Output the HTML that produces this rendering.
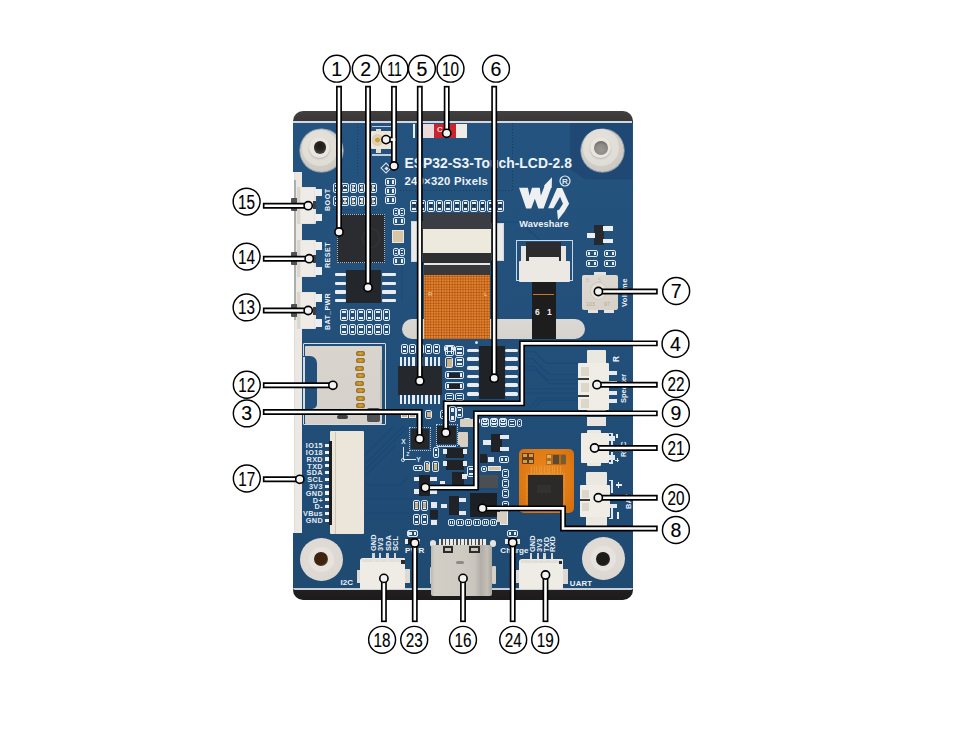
<!DOCTYPE html>
<html><head><meta charset="utf-8">
<style>
*{margin:0;padding:0;box-sizing:border-box}
html,body{width:960px;height:730px;background:#fff;overflow:hidden}
body{position:relative;font-family:"Liberation Sans",sans-serif}
.a{position:absolute}
.hole{position:absolute;border-radius:50%;background:#dedbd3;box-shadow:inset 0 -3px 4px rgba(0,0,0,.25)}
.hole i{position:absolute;border-radius:50%;background:#d2cec6;left:50%;top:50%;transform:translate(-50%,-50%)}
.hole b{position:absolute;border-radius:50%;background:#3a3632;left:50%;top:50%;transform:translate(-50%,-50%)}
.t{position:absolute;color:#eef3f8;font-weight:bold;white-space:nowrap;line-height:1}
.o{position:absolute;border:1px solid #dfe8f0;border-radius:2px}
.p{position:absolute;background:#e9edf0}
.k{position:absolute;background:#25282d}
.c{position:absolute;background:#ebe6dc}
.r{position:absolute;transform-origin:0 0;transform:rotate(-90deg)}
</style></head><body>
<div class="a" style="left:293px;top:111px;width:340px;height:489px;background:linear-gradient(180deg,#423f3f 0,#393737 2.1%,#2c2a2a 2.3%,#242222 96%,#1d1b1b 100%);border-radius:10px 10px 10px 10px"></div>
<div class="a" style="left:293px;top:121px;width:339.5px;height:467.5px;background:linear-gradient(180deg,#24537f 0,#22507a 45%,#204c75 75%,#1f4a72 100%);border-radius:3px"></div>
<div class="a" style="left:293px;top:121px;width:339px;height:1.6px;background:#d2d8de"></div>
<div class="a" style="left:293px;top:588px;width:339.5px;height:1.7px;background:#c9cfd5;border-radius:0 0 2px 2px"></div>
<div class="a" style="left:570px;top:122.6px;width:62px;height:57px;background:#1f4974;clip-path:polygon(0 0,100% 0,100% 100%,25% 100%,0 82%)"></div>
<div class="a" style="left:511.5px;top:123px;width:1px;height:67px;background:repeating-linear-gradient(180deg,#123c68 0,#123c68 1px,transparent 1px,transparent 3px)"></div>
<div class="a" style="left:400px;top:189.5px;width:112px;height:1px;background:repeating-linear-gradient(90deg,#123c68 0,#123c68 1px,transparent 1px,transparent 3px)"></div>
<svg class="a" style="left:0;top:0" width="960" height="730" viewBox="0 0 960 730"><g fill="none" stroke="#174879" stroke-width="1.1" opacity=".75">
<polyline points="525.3,351.7 534.6,351.7 546.3,363.4 579,363.4"/>
<polyline points="525.3,358.5 532.7,358.5 548.8,374.5 579,374.5"/>
<polyline points="525.3,366.5 534,366.5 547.5,380 579,380"/>
<polyline points="525.3,370.2 535.8,370.2 549.4,383.8 579,383.8"/>
<polyline points="525.3,388.7 579,388.7"/>
<polyline points="529.7,407.2 539,398 579,398"/>
<polyline points="534.6,407.2 542,400.4 579,400.4"/>
<polyline points="525.3,393 579,393"/>
<polyline points="365,464.5 404.7,425"/>
<polyline points="365,470 407,428"/>
<polyline points="365,476 396,445"/>
<polyline points="365,485 400,485 408,477"/>
<polyline points="365,498.8 411,498.8"/>
<polyline points="365,513.3 411,513.3"/>
<polyline points="365,455 393,427"/>
<polyline points="540,240 520,222 470,222"/>
<polyline points="402,300 402,260"/>
</g></svg>
<div class="a" style="left:293px;top:172px;width:0.8px;height:361px;background:#fff"></div>
<div class="a" style="left:293.7px;top:172px;width:8.4px;height:361px;background:linear-gradient(90deg,#dedad5,#ebe8e3 20%,#ece9e4)"></div>
<div class="a" style="left:294.3px;top:180px;width:1.5px;height:140px;background:#b0aeab"></div>
<div class="a" style="left:300.0px;top:129.1px;width:43.0px;height:43.0px;border-radius:50%;background:radial-gradient(circle at 45% 35%,#d9d5ce 0,#cfcbc3 70%,#b9b5ad 100%);box-shadow:0 0 0 0.6px rgba(240,240,240,.6)"></div>
<div class="a" style="left:301.5px;top:129.5px;width:36.6px;height:36.6px;border-radius:50%;background:radial-gradient(circle at 45% 40%,#e6e3dd 0,#dfdcd5 80%,#d3cfc8 100%);"></div>
<div class="a" style="left:309.1px;top:137.4px;width:20.8px;height:20.8px;border-radius:50%;background:#e9e6e0;box-shadow:0 1px 2px rgba(0,0,0,.2)"></div>
<div class="a" style="left:313.6px;top:141.4px;width:12.8px;height:12.8px;border-radius:50%;background:radial-gradient(circle at 50% 35%,#1c1a18 0,#2a2623 45%,#5c5750 100%);"></div>
<div class="a" style="left:580.5px;top:128.5px;width:43.0px;height:43.0px;border-radius:50%;background:radial-gradient(circle at 45% 35%,#d9d5ce 0,#cfcbc3 70%,#b9b5ad 100%);box-shadow:0 0 0 0.6px rgba(240,240,240,.6)"></div>
<div class="a" style="left:582.7px;top:129.2px;width:36.6px;height:36.6px;border-radius:50%;background:radial-gradient(circle at 45% 40%,#e6e3dd 0,#dfdcd5 80%,#d3cfc8 100%);"></div>
<div class="a" style="left:590.1px;top:137.1px;width:20.8px;height:20.8px;border-radius:50%;background:#e9e6e0;box-shadow:0 1px 2px rgba(0,0,0,.2)"></div>
<div class="a" style="left:594.3000000000001px;top:141.29999999999998px;width:13.8px;height:13.8px;border-radius:50%;background:radial-gradient(circle at 50% 65%,#9b9792 0,#8d8984 50%,#57534e 100%);"></div>
<div class="a" style="left:300.09999999999997px;top:537.6999999999999px;width:43.2px;height:43.2px;border-radius:50%;background:radial-gradient(circle at 40% 40%,#e2ded7 0,#dcd8d1 75%,#bdb9b2 92%,#9f9b95 100%);"></div>
<div class="a" style="left:309.2px;top:546.8px;width:25.0px;height:25.0px;border-radius:50%;background:#e6e3de;"></div>
<div class="a" style="left:314.3px;top:552.4px;width:13.8px;height:13.8px;border-radius:50%;background:radial-gradient(circle at 45% 45%,#3e2410 0,#3e2410 55%,#8a7234 100%);"></div>
<div class="a" style="left:581.6999999999999px;top:537.1999999999999px;width:43.2px;height:43.2px;border-radius:50%;background:radial-gradient(circle at 40% 40%,#e2ded7 0,#dcd8d1 75%,#bdb9b2 92%,#9f9b95 100%);"></div>
<div class="a" style="left:590.8px;top:546.3px;width:25.0px;height:25.0px;border-radius:50%;background:#e6e3de;"></div>
<div class="a" style="left:595.9px;top:551.9px;width:13.8px;height:13.8px;border-radius:50%;background:radial-gradient(circle at 45% 45%,#1e1c1a 0,#1e1c1a 55%,#4a4642 100%);"></div>
<div class="a" style="left:371.4px;top:131.3px;width:20.3px;height:17.7px;background:#ece5d8;border-radius:1px"></div>
<div class="a" style="left:375.5px;top:128.5px;width:5px;height:3px;background:#e5ddd0;"></div>
<div class="a" style="left:375.5px;top:149px;width:5px;height:4px;background:#e5ddd0;"></div>
<div class="a" style="left:372.2px;top:134.4px;width:11.2px;height:11.2px;background:radial-gradient(circle,#c9a042 0,#c9a042 25%,#e2d3b8 35%,#d8c6a4 100%);border-radius:50%"></div>
<div class="a" style="left:372px;top:125.5px;width:20px;height:1.3px;background:#e8eef4;opacity:.8"></div>
<div class="a" style="left:372px;top:154.3px;width:22px;height:1.3px;background:#e8eef4;opacity:.8"></div>
<div class="a" style="left:413px;top:124px;width:1.6px;height:14px;background:#e8eef4;"></div>
<div class="a" style="left:423.2px;top:124.1px;width:11px;height:13.5px;background:#ecdada;"></div>
<div class="a" style="left:434.2px;top:124.1px;width:21.8px;height:13.5px;background:#c9252f;"></div>
<div class="a" style="left:456px;top:124.1px;width:11px;height:13.5px;background:#efebe7;"></div>
<div class="t" style="left:437px;top:126px;font-size:8px;color:#f4dede">C</div>
<div class="t" style="left:404.4px;top:157.4px;font-size:13.85px;letter-spacing:0.04px">ESP32-S3-Touch-LCD-2.8</div>
<div class="t" style="left:404.5px;top:175.7px;font-size:11.3px;letter-spacing:0.25px">240×320 Pixels</div>
<div class="o" style="left:410.0px;top:199.6px;width:7.6px;height:12.4px;"><i style="position:absolute;left:1px;top:1px;right:1px;height:2.0px;background:#e8eef4"></i><i style="position:absolute;left:1px;bottom:1px;right:1px;height:2.0px;background:#e8eef4"></i><i style="position:absolute;left:1.5px;right:1.5px;top:3.6px;height:3.2px;background:#2c2f35"></i></div>
<div class="o" style="left:418.6px;top:199.6px;width:7.6px;height:12.4px;"><i style="position:absolute;left:1px;top:1px;right:1px;height:2.0px;background:#e8eef4"></i><i style="position:absolute;left:1px;bottom:1px;right:1px;height:2.0px;background:#e8eef4"></i><i style="position:absolute;left:1.5px;right:1.5px;top:3.6px;height:3.2px;background:#2c2f35"></i></div>
<div class="o" style="left:427.2px;top:199.6px;width:7.6px;height:12.4px;"><i style="position:absolute;left:1px;top:1px;right:1px;height:2.0px;background:#e8eef4"></i><i style="position:absolute;left:1px;bottom:1px;right:1px;height:2.0px;background:#e8eef4"></i><i style="position:absolute;left:1.5px;right:1.5px;top:3.6px;height:3.2px;background:#2c2f35"></i></div>
<div class="o" style="left:435.8px;top:199.6px;width:7.6px;height:12.4px;"><i style="position:absolute;left:1px;top:1px;right:1px;height:2.0px;background:#e8eef4"></i><i style="position:absolute;left:1px;bottom:1px;right:1px;height:2.0px;background:#e8eef4"></i><i style="position:absolute;left:1.5px;right:1.5px;top:3.6px;height:3.2px;background:#2c2f35"></i></div>
<div class="o" style="left:444.4px;top:199.6px;width:7.6px;height:12.4px;"><i style="position:absolute;left:1px;top:1px;right:1px;height:2.0px;background:#e8eef4"></i><i style="position:absolute;left:1px;bottom:1px;right:1px;height:2.0px;background:#e8eef4"></i><i style="position:absolute;left:1.5px;right:1.5px;top:3.6px;height:3.2px;background:#2c2f35"></i></div>
<div class="o" style="left:453.0px;top:199.6px;width:7.6px;height:12.4px;"><i style="position:absolute;left:1px;top:1px;right:1px;height:2.0px;background:#e8eef4"></i><i style="position:absolute;left:1px;bottom:1px;right:1px;height:2.0px;background:#e8eef4"></i><i style="position:absolute;left:1.5px;right:1.5px;top:3.6px;height:3.2px;background:#2c2f35"></i></div>
<div class="o" style="left:461.6px;top:199.6px;width:7.6px;height:12.4px;"><i style="position:absolute;left:1px;top:1px;right:1px;height:2.0px;background:#e8eef4"></i><i style="position:absolute;left:1px;bottom:1px;right:1px;height:2.0px;background:#e8eef4"></i><i style="position:absolute;left:1.5px;right:1.5px;top:3.6px;height:3.2px;background:#2c2f35"></i></div>
<div class="o" style="left:470.2px;top:199.6px;width:7.6px;height:12.4px;"><i style="position:absolute;left:1px;top:1px;right:1px;height:2.0px;background:#e8eef4"></i><i style="position:absolute;left:1px;bottom:1px;right:1px;height:2.0px;background:#e8eef4"></i><i style="position:absolute;left:1.5px;right:1.5px;top:3.6px;height:3.2px;background:#2c2f35"></i></div>
<div class="o" style="left:478.8px;top:199.6px;width:7.6px;height:12.4px;"><i style="position:absolute;left:1px;top:1px;right:1px;height:2.0px;background:#e8eef4"></i><i style="position:absolute;left:1px;bottom:1px;right:1px;height:2.0px;background:#e8eef4"></i><i style="position:absolute;left:1.5px;right:1.5px;top:3.6px;height:3.2px;background:#2c2f35"></i></div>
<div class="o" style="left:487.4px;top:199.6px;width:7.6px;height:12.4px;"><i style="position:absolute;left:1px;top:1px;right:1px;height:2.0px;background:#e8eef4"></i><i style="position:absolute;left:1px;bottom:1px;right:1px;height:2.0px;background:#e8eef4"></i><i style="position:absolute;left:1.5px;right:1.5px;top:3.6px;height:3.2px;background:#2c2f35"></i></div>
<div class="o" style="left:496.0px;top:199.6px;width:7.6px;height:12.4px;"><i style="position:absolute;left:1px;top:1px;right:1px;height:2.0px;background:#e8eef4"></i><i style="position:absolute;left:1px;bottom:1px;right:1px;height:2.0px;background:#e8eef4"></i><i style="position:absolute;left:1.5px;right:1.5px;top:3.6px;height:3.2px;background:#2c2f35"></i></div>
<div class="a" style="left:290.7px;top:198.2px;width:7px;height:13px;background:#505356;border-radius:1px"></div>
<div class="a" style="left:297.3px;top:186.5px;width:18.3px;height:37px;background:#e6e2dc;border-radius:1px"></div>
<div class="a" style="left:300.5px;top:187.5px;width:13.5px;height:35px;background:#efece7;"></div>
<div class="a" style="left:297.3px;top:186.5px;width:3px;height:37px;background:#d9d5cf;"></div>
<div class="a" style="left:315.4px;top:188.5px;width:6.4px;height:7.5px;background:#eceef0;"></div>
<div class="a" style="left:315.4px;top:213.5px;width:6.4px;height:7.5px;background:#eceef0;"></div>
<div class="a" style="left:312.5px;top:201px;width:3px;height:8px;background:#3a3d42;"></div>
<div class="a" style="left:290.7px;top:251.89999999999998px;width:7px;height:13px;background:#505356;border-radius:1px"></div>
<div class="a" style="left:297.3px;top:240.2px;width:18.3px;height:37px;background:#e6e2dc;border-radius:1px"></div>
<div class="a" style="left:300.5px;top:241.2px;width:13.5px;height:35px;background:#efece7;"></div>
<div class="a" style="left:297.3px;top:240.2px;width:3px;height:37px;background:#d9d5cf;"></div>
<div class="a" style="left:315.4px;top:242.2px;width:6.4px;height:7.5px;background:#eceef0;"></div>
<div class="a" style="left:315.4px;top:267.2px;width:6.4px;height:7.5px;background:#eceef0;"></div>
<div class="a" style="left:312.5px;top:254.7px;width:3px;height:8px;background:#3a3d42;"></div>
<div class="a" style="left:290.7px;top:303.7px;width:7px;height:13px;background:#505356;border-radius:1px"></div>
<div class="a" style="left:297.3px;top:292.0px;width:18.3px;height:37px;background:#e6e2dc;border-radius:1px"></div>
<div class="a" style="left:300.5px;top:293.0px;width:13.5px;height:35px;background:#efece7;"></div>
<div class="a" style="left:297.3px;top:292.0px;width:3px;height:37px;background:#d9d5cf;"></div>
<div class="a" style="left:315.4px;top:294.0px;width:6.4px;height:7.5px;background:#eceef0;"></div>
<div class="a" style="left:315.4px;top:319.0px;width:6.4px;height:7.5px;background:#eceef0;"></div>
<div class="a" style="left:312.5px;top:306.5px;width:3px;height:8px;background:#3a3d42;"></div>
<div class="t r" style="left:325.4px;top:210.9px;font-size:7.1px;letter-spacing:0.5px">BOOT</div>
<div class="t r" style="left:325.4px;top:268.2px;font-size:7.1px;letter-spacing:0.5px">RESET</div>
<div class="t r" style="left:325.4px;top:329.8px;font-size:7.1px;letter-spacing:0.35px">BAT_PWR</div>
<div class="o" style="left:333.2px;top:182.5px;width:7.2px;height:10.2px;"><i style="position:absolute;left:1px;top:1px;right:1px;height:2.0px;background:#e8eef4"></i><i style="position:absolute;left:1px;bottom:1px;right:1px;height:2.0px;background:#e8eef4"></i><i style="position:absolute;left:1.5px;right:1.5px;top:2.5px;height:3.2px;background:#b89a70"></i></div>
<div class="o" style="left:341.4px;top:182.5px;width:7.2px;height:10.2px;"><i style="position:absolute;left:1px;top:1px;right:1px;height:2.0px;background:#e8eef4"></i><i style="position:absolute;left:1px;bottom:1px;right:1px;height:2.0px;background:#e8eef4"></i><i style="position:absolute;left:1.5px;right:1.5px;top:2.5px;height:3.2px;background:#3a3a3a"></i></div>
<div class="o" style="left:349.7px;top:182.5px;width:7.2px;height:10.2px;"><i style="position:absolute;left:1px;top:1px;right:1px;height:2.0px;background:#e8eef4"></i><i style="position:absolute;left:1px;bottom:1px;right:1px;height:2.0px;background:#e8eef4"></i><i style="position:absolute;left:1.5px;right:1.5px;top:2.5px;height:3.2px;background:#c8b08a"></i></div>
<div class="o" style="left:358.3px;top:182.5px;width:7.2px;height:10.2px;"><i style="position:absolute;left:1px;top:1px;right:1px;height:2.0px;background:#e8eef4"></i><i style="position:absolute;left:1px;bottom:1px;right:1px;height:2.0px;background:#e8eef4"></i><i style="position:absolute;left:1.5px;right:1.5px;top:2.5px;height:3.2px;background:#b89a70"></i></div>
<div class="o" style="left:369.8px;top:182.5px;width:7.2px;height:10.2px;"><i style="position:absolute;left:1px;top:1px;right:1px;height:2.0px;background:#e8eef4"></i><i style="position:absolute;left:1px;bottom:1px;right:1px;height:2.0px;background:#e8eef4"></i><i style="position:absolute;left:1.5px;right:1.5px;top:2.5px;height:3.2px;background:#d8c090"></i></div>
<div class="o" style="left:333.2px;top:196.2px;width:7.2px;height:10.2px;"><i style="position:absolute;left:1px;top:1px;right:1px;height:2.0px;background:#e8eef4"></i><i style="position:absolute;left:1px;bottom:1px;right:1px;height:2.0px;background:#e8eef4"></i><i style="position:absolute;left:1.5px;right:1.5px;top:2.5px;height:3.2px;background:#3a3a3a"></i></div>
<div class="o" style="left:341.4px;top:196.2px;width:7.2px;height:10.2px;"><i style="position:absolute;left:1px;top:1px;right:1px;height:2.0px;background:#e8eef4"></i><i style="position:absolute;left:1px;bottom:1px;right:1px;height:2.0px;background:#e8eef4"></i><i style="position:absolute;left:1.5px;right:1.5px;top:2.5px;height:3.2px;background:#c8b08a"></i></div>
<div class="o" style="left:349.7px;top:196.2px;width:7.2px;height:10.2px;"><i style="position:absolute;left:1px;top:1px;right:1px;height:2.0px;background:#e8eef4"></i><i style="position:absolute;left:1px;bottom:1px;right:1px;height:2.0px;background:#e8eef4"></i><i style="position:absolute;left:1.5px;right:1.5px;top:2.5px;height:3.2px;background:#b89a70"></i></div>
<div class="o" style="left:358.3px;top:196.2px;width:7.2px;height:10.2px;"><i style="position:absolute;left:1px;top:1px;right:1px;height:2.0px;background:#e8eef4"></i><i style="position:absolute;left:1px;bottom:1px;right:1px;height:2.0px;background:#e8eef4"></i><i style="position:absolute;left:1.5px;right:1.5px;top:2.5px;height:3.2px;background:#d8c090"></i></div>
<div class="o" style="left:369.8px;top:196.2px;width:7.2px;height:10.2px;"><i style="position:absolute;left:1px;top:1px;right:1px;height:2.0px;background:#e8eef4"></i><i style="position:absolute;left:1px;bottom:1px;right:1px;height:2.0px;background:#e8eef4"></i><i style="position:absolute;left:1.5px;right:1.5px;top:2.5px;height:3.2px;background:#b89a70"></i></div>
<div class="o" style="left:384.5px;top:178px;width:11px;height:8px;"><i style="position:absolute;top:1px;left:1px;bottom:1px;width:2px;background:#e8eef4"></i><i style="position:absolute;top:1px;right:1px;bottom:1px;width:2px;background:#e8eef4"></i></div>
<div class="o" style="left:384.5px;top:187px;width:11px;height:8px;"><i style="position:absolute;top:1px;left:1px;bottom:1px;width:2px;background:#e8eef4"></i><i style="position:absolute;top:1px;right:1px;bottom:1px;width:2px;background:#e8eef4"></i></div>
<div class="o" style="left:384.5px;top:196px;width:11px;height:8px;"><i style="position:absolute;top:1px;left:1px;bottom:1px;width:2px;background:#e8eef4"></i><i style="position:absolute;top:1px;right:1px;bottom:1px;width:2px;background:#e8eef4"></i></div>
<div class="a" style="left:336.6px;top:213.8px;width:48.6px;height:49.4px;background:#2a2c30;border:1.2px dotted #a9b6c4"></div>
<div class="a" style="left:362px;top:228px;width:18px;height:20px;background:transparent;border:1px solid #34373c;border-radius:50%"></div>
<div class="a" style="left:392px;top:230px;width:11.7px;height:13.3px;background:#d6c6a6;border:1px solid #ece6da"></div>
<div class="o" style="left:392.5px;top:208px;width:6px;height:8px;"><i style="position:absolute;left:1px;top:1px;right:1px;height:1px;background:#e8eef4"></i><i style="position:absolute;left:1px;bottom:1px;right:1px;height:1px;background:#e8eef4"></i></div>
<div class="o" style="left:399px;top:208px;width:6px;height:8px;"><i style="position:absolute;left:1px;top:1px;right:1px;height:1px;background:#e8eef4"></i><i style="position:absolute;left:1px;bottom:1px;right:1px;height:1px;background:#e8eef4"></i></div>
<div class="o" style="left:392.5px;top:217px;width:12.5px;height:8px;"><i style="position:absolute;top:1px;left:1px;bottom:1px;width:2.0px;background:#e8eef4"></i><i style="position:absolute;top:1px;right:1px;bottom:1px;width:2.0px;background:#e8eef4"></i></div>
<div class="o" style="left:392.5px;top:248px;width:6px;height:8px;"><i style="position:absolute;left:1px;top:1px;right:1px;height:1px;background:#e8eef4"></i><i style="position:absolute;left:1px;bottom:1px;right:1px;height:1px;background:#e8eef4"></i></div>
<div class="o" style="left:399px;top:248px;width:6px;height:8px;"><i style="position:absolute;left:1px;top:1px;right:1px;height:1px;background:#e8eef4"></i><i style="position:absolute;left:1px;bottom:1px;right:1px;height:1px;background:#e8eef4"></i></div>
<div class="o" style="left:392.5px;top:257px;width:12.5px;height:8px;"><i style="position:absolute;top:1px;left:1px;bottom:1px;width:2.0px;background:#e8eef4"></i><i style="position:absolute;top:1px;right:1px;bottom:1px;width:2.0px;background:#e8eef4"></i></div>
<div class="a" style="left:346.2px;top:270.3px;width:34.8px;height:32.9px;background:#23262b;"></div>
<div class="a" style="left:335.2px;top:272.7px;width:10.5px;height:3.6px;background:#eaedf0;border-radius:1px"></div>
<div class="a" style="left:381.5px;top:272.7px;width:14.5px;height:3.6px;background:#eaedf0;border-radius:1px"></div>
<div class="a" style="left:335.2px;top:281.6px;width:10.5px;height:3.6px;background:#eaedf0;border-radius:1px"></div>
<div class="a" style="left:381.5px;top:281.6px;width:14.5px;height:3.6px;background:#eaedf0;border-radius:1px"></div>
<div class="a" style="left:335.2px;top:290.1px;width:10.5px;height:3.6px;background:#eaedf0;border-radius:1px"></div>
<div class="a" style="left:381.5px;top:290.1px;width:14.5px;height:3.6px;background:#eaedf0;border-radius:1px"></div>
<div class="a" style="left:335.2px;top:298.7px;width:10.5px;height:3.6px;background:#eaedf0;border-radius:1px"></div>
<div class="a" style="left:381.5px;top:298.7px;width:14.5px;height:3.6px;background:#eaedf0;border-radius:1px"></div>
<div class="o" style="left:340.0px;top:309.3px;width:7.6px;height:11.8px;"><i style="position:absolute;left:1px;top:1px;right:1px;height:2.0px;background:#e8eef4"></i><i style="position:absolute;left:1px;bottom:1px;right:1px;height:2.0px;background:#e8eef4"></i></div>
<div class="o" style="left:348.5px;top:309.3px;width:7.6px;height:11.8px;"><i style="position:absolute;left:1px;top:1px;right:1px;height:2.0px;background:#e8eef4"></i><i style="position:absolute;left:1px;bottom:1px;right:1px;height:2.0px;background:#e8eef4"></i></div>
<div class="o" style="left:357.0px;top:309.3px;width:7.6px;height:11.8px;"><i style="position:absolute;left:1px;top:1px;right:1px;height:2.0px;background:#e8eef4"></i><i style="position:absolute;left:1px;bottom:1px;right:1px;height:2.0px;background:#e8eef4"></i></div>
<div class="o" style="left:365.5px;top:309.3px;width:7.6px;height:11.8px;"><i style="position:absolute;left:1px;top:1px;right:1px;height:2.0px;background:#e8eef4"></i><i style="position:absolute;left:1px;bottom:1px;right:1px;height:2.0px;background:#e8eef4"></i></div>
<div class="o" style="left:374.0px;top:309.3px;width:7.6px;height:11.8px;"><i style="position:absolute;left:1px;top:1px;right:1px;height:2.0px;background:#e8eef4"></i><i style="position:absolute;left:1px;bottom:1px;right:1px;height:2.0px;background:#e8eef4"></i></div>
<div class="o" style="left:382.5px;top:309.3px;width:7.6px;height:11.8px;"><i style="position:absolute;left:1px;top:1px;right:1px;height:2.0px;background:#e8eef4"></i><i style="position:absolute;left:1px;bottom:1px;right:1px;height:2.0px;background:#e8eef4"></i></div>
<div class="o" style="left:340.0px;top:323.7px;width:7.6px;height:11.8px;"><i style="position:absolute;left:1px;top:1px;right:1px;height:2.0px;background:#e8eef4"></i><i style="position:absolute;left:1px;bottom:1px;right:1px;height:2.0px;background:#e8eef4"></i></div>
<div class="o" style="left:348.5px;top:323.7px;width:7.6px;height:11.8px;"><i style="position:absolute;left:1px;top:1px;right:1px;height:2.0px;background:#e8eef4"></i><i style="position:absolute;left:1px;bottom:1px;right:1px;height:2.0px;background:#e8eef4"></i></div>
<div class="o" style="left:357.0px;top:323.7px;width:7.6px;height:11.8px;"><i style="position:absolute;left:1px;top:1px;right:1px;height:2.0px;background:#e8eef4"></i><i style="position:absolute;left:1px;bottom:1px;right:1px;height:2.0px;background:#e8eef4"></i></div>
<div class="o" style="left:365.5px;top:323.7px;width:7.6px;height:11.8px;"><i style="position:absolute;left:1px;top:1px;right:1px;height:2.0px;background:#e8eef4"></i><i style="position:absolute;left:1px;bottom:1px;right:1px;height:2.0px;background:#e8eef4"></i></div>
<div class="o" style="left:374.0px;top:323.7px;width:7.6px;height:11.8px;"><i style="position:absolute;left:1px;top:1px;right:1px;height:2.0px;background:#e8eef4"></i><i style="position:absolute;left:1px;bottom:1px;right:1px;height:2.0px;background:#e8eef4"></i></div>
<div class="o" style="left:382.5px;top:323.7px;width:7.6px;height:11.8px;"><i style="position:absolute;left:1px;top:1px;right:1px;height:2.0px;background:#e8eef4"></i><i style="position:absolute;left:1px;bottom:1px;right:1px;height:2.0px;background:#e8eef4"></i></div>
<div class="a" style="left:423px;top:212.6px;width:68px;height:16px;background:#3b3d45;"></div>
<div class="a" style="left:411.4px;top:220.8px;width:11.6px;height:41.2px;background:#eceae6;border:1px solid #cfd8e0"></div>
<div class="a" style="left:491px;top:223px;width:13px;height:38px;background:#eceae6;border:1px solid #cfd8e0"></div>
<div class="a" style="left:423px;top:229px;width:68px;height:24px;background:#ede9dd;"></div>
<div class="a" style="left:423px;top:253px;width:68px;height:9.6px;background:#2e2f31;"></div>
<div class="a" style="left:424px;top:262.6px;width:66px;height:2px;background:#e6e6e6;"></div>
<div class="a" style="left:424px;top:264.6px;width:66px;height:10px;background:#39393b;"></div>
<div class="a" style="left:401.6px;top:319.4px;width:183.4px;height:19.8px;background:linear-gradient(180deg,#dcd9d5,#d6d3cf);border-radius:10px"></div>
<div class="a" style="left:424.3px;top:274.8px;width:66px;height:64.5px;background:#e8842e;background-image:radial-gradient(circle,#a95516 0.8px,transparent 1.2px);background-size:2.7px 2.7px"></div>
<div class="t" style="left:428px;top:291px;font-size:6px;color:#f5d0b0;font-weight:normal">R</div>
<div class="t" style="left:484px;top:291px;font-size:6px;color:#f5d0b0;font-weight:normal">L</div>
<div class="a" style="left:516px;top:239.5px;width:56.8px;height:41.7px;background:transparent;border:1.2px solid #c4d6e8"></div>
<div class="a" style="left:526.3px;top:241.8px;width:34.7px;height:19px;background:#2c2c2f;"></div>
<div class="a" style="left:520.8px;top:246px;width:5.5px;height:16px;background:#e9e6e1;"></div>
<div class="a" style="left:561px;top:246px;width:4.7px;height:16px;background:#e9e6e1;"></div>
<div class="a" style="left:519.2px;top:260.7px;width:50.4px;height:21.3px;background:#ece9e4;border-radius:1px"></div>
<div class="a" style="left:528.6px;top:256.8px;width:30.8px;height:4.5px;background:#ece9e4;"></div>
<div class="a" style="left:531.7px;top:281.7px;width:24px;height:57.5px;background:#1d1d1e;"></div>
<div class="a" style="left:533px;top:293.5px;width:21px;height:1.2px;background:#c8762a;"></div>
<div class="t" style="left:535px;top:308px;font-size:8.5px;color:#f0f0f0">6</div>
<div class="t" style="left:547px;top:308px;font-size:8.5px;color:#f0f0f0">1</div>
<div class="a" style="left:594px;top:224.8px;width:9.6px;height:19.9px;background:#26292d;"></div>
<div class="a" style="left:587px;top:233px;width:8px;height:4.5px;background:#eceff2;"></div>
<div class="a" style="left:603px;top:226px;width:10px;height:4.5px;background:#eceff2;"></div>
<div class="a" style="left:603px;top:238.5px;width:10px;height:4.5px;background:#eceff2;"></div>
<div class="o" style="left:585.8px;top:249.5px;width:12.2px;height:7.5px;"><i style="position:absolute;top:1px;left:1px;bottom:1px;width:2.0px;background:#e8eef4"></i><i style="position:absolute;top:1px;right:1px;bottom:1px;width:2.0px;background:#e8eef4"></i></div>
<div class="o" style="left:604.3px;top:249.5px;width:11.7px;height:7.5px;"><i style="position:absolute;top:1px;left:1px;bottom:1px;width:2.0px;background:#e8eef4"></i><i style="position:absolute;top:1px;right:1px;bottom:1px;width:2.0px;background:#e8eef4"></i></div>
<div class="o" style="left:585.8px;top:259.7px;width:12.2px;height:7px;"><i style="position:absolute;top:1px;left:1px;bottom:1px;width:2.0px;background:#e8eef4"></i><i style="position:absolute;top:1px;right:1px;bottom:1px;width:2.0px;background:#e8eef4"></i></div>
<div class="o" style="left:604.3px;top:259.7px;width:11.7px;height:7px;"><i style="position:absolute;top:1px;left:1px;bottom:1px;width:2.0px;background:#e8eef4"></i><i style="position:absolute;top:1px;right:1px;bottom:1px;width:2.0px;background:#e8eef4"></i></div>
<div class="a" style="left:594px;top:271.8px;width:12px;height:4.5px;background:#e6e3de;"></div>
<div class="a" style="left:587.7px;top:308.5px;width:10.3px;height:4.2px;background:#e6e3de;"></div>
<div class="a" style="left:604.3px;top:308.5px;width:10.2px;height:4.2px;background:#e6e3de;"></div>
<div class="a" style="left:582.2px;top:274.9px;width:35.5px;height:34.7px;background:linear-gradient(160deg,#dedad2,#d6d1c8);border-radius:2px"></div>
<div class="a" style="left:590.5px;top:283.2px;width:15.6px;height:15.6px;background:#e4e0d9;border-radius:50%;box-shadow:0 0 0 1px #cfc9bf"></div>
<div class="t" style="left:585.5px;top:277px;font-size:6px;color:#c9c2b6;font-weight:normal">B</div>
<div class="t" style="left:598px;top:277px;font-size:6px;color:#c9c2b6;font-weight:normal">5</div>
<div class="t" style="left:586px;top:301.5px;font-size:5.5px;color:#c0a888;font-weight:normal">103</div>
<div class="t" style="left:604px;top:301.5px;font-size:5.5px;color:#c0a888;font-weight:normal">97</div>
<div class="t r" style="left:621px;top:306.5px;font-size:7.6px;letter-spacing:0.3px">Volume</div>
<div class="t" style="left:519.2px;top:220.2px;font-size:9.2px;letter-spacing:0.15px">Waveshare</div>
<div class="o" style="left:400.5px;top:344px;width:7px;height:10px;"><i style="position:absolute;left:1px;top:1px;right:1px;height:2px;background:#e8eef4"></i><i style="position:absolute;left:1px;bottom:1px;right:1px;height:2px;background:#e8eef4"></i></div>
<div class="o" style="left:408.7px;top:344px;width:7px;height:10px;"><i style="position:absolute;left:1px;top:1px;right:1px;height:2px;background:#e8eef4"></i><i style="position:absolute;left:1px;bottom:1px;right:1px;height:2px;background:#e8eef4"></i></div>
<div class="o" style="left:416.9px;top:344px;width:7px;height:10px;"><i style="position:absolute;left:1px;top:1px;right:1px;height:2px;background:#e8eef4"></i><i style="position:absolute;left:1px;bottom:1px;right:1px;height:2px;background:#e8eef4"></i></div>
<div class="o" style="left:425.1px;top:344px;width:7px;height:10px;"><i style="position:absolute;left:1px;top:1px;right:1px;height:2px;background:#e8eef4"></i><i style="position:absolute;left:1px;bottom:1px;right:1px;height:2px;background:#e8eef4"></i></div>
<div class="o" style="left:433.3px;top:344px;width:7px;height:10px;"><i style="position:absolute;left:1px;top:1px;right:1px;height:2px;background:#e8eef4"></i><i style="position:absolute;left:1px;bottom:1px;right:1px;height:2px;background:#e8eef4"></i></div>
<div class="o" style="left:444px;top:344.5px;width:10.5px;height:7px;"><i style="position:absolute;top:1px;left:1px;bottom:1px;width:2.0px;background:#e8eef4"></i><i style="position:absolute;top:1px;right:1px;bottom:1px;width:2.0px;background:#e8eef4"></i></div>
<div class="a" style="left:398.1px;top:365.6px;width:43.8px;height:29.2px;background:#25282d;"></div>
<div class="a" style="left:399.5px;top:357px;width:2.3px;height:8.6px;background:#e9edf0;"></div>
<div class="a" style="left:399.5px;top:394.8px;width:2.3px;height:9.5px;background:#e9edf0;"></div>
<div class="a" style="left:403.8px;top:357px;width:2.3px;height:8.6px;background:#e9edf0;"></div>
<div class="a" style="left:403.8px;top:394.8px;width:2.3px;height:9.5px;background:#e9edf0;"></div>
<div class="a" style="left:408.1px;top:357px;width:2.3px;height:8.6px;background:#e9edf0;"></div>
<div class="a" style="left:408.1px;top:394.8px;width:2.3px;height:9.5px;background:#e9edf0;"></div>
<div class="a" style="left:412.4px;top:357px;width:2.3px;height:8.6px;background:#e9edf0;"></div>
<div class="a" style="left:412.4px;top:394.8px;width:2.3px;height:9.5px;background:#e9edf0;"></div>
<div class="a" style="left:416.7px;top:357px;width:2.3px;height:8.6px;background:#e9edf0;"></div>
<div class="a" style="left:416.7px;top:394.8px;width:2.3px;height:9.5px;background:#e9edf0;"></div>
<div class="a" style="left:421.0px;top:357px;width:2.3px;height:8.6px;background:#e9edf0;"></div>
<div class="a" style="left:421.0px;top:394.8px;width:2.3px;height:9.5px;background:#e9edf0;"></div>
<div class="a" style="left:425.3px;top:357px;width:2.3px;height:8.6px;background:#e9edf0;"></div>
<div class="a" style="left:425.3px;top:394.8px;width:2.3px;height:9.5px;background:#e9edf0;"></div>
<div class="a" style="left:429.6px;top:357px;width:2.3px;height:8.6px;background:#e9edf0;"></div>
<div class="a" style="left:429.6px;top:394.8px;width:2.3px;height:9.5px;background:#e9edf0;"></div>
<div class="a" style="left:433.9px;top:357px;width:2.3px;height:8.6px;background:#e9edf0;"></div>
<div class="a" style="left:433.9px;top:394.8px;width:2.3px;height:9.5px;background:#e9edf0;"></div>
<div class="a" style="left:438.2px;top:357px;width:2.3px;height:8.6px;background:#e9edf0;"></div>
<div class="a" style="left:438.2px;top:394.8px;width:2.3px;height:9.5px;background:#e9edf0;"></div>
<div class="o" style="left:445px;top:346px;width:9px;height:10px;"><i style="position:absolute;top:1px;left:1px;bottom:1px;width:1px;background:#e8eef4"></i><i style="position:absolute;top:1px;right:1px;bottom:1px;width:1px;background:#e8eef4"></i></div>
<div class="o" style="left:445px;top:357px;width:8px;height:11px;"><i style="position:absolute;left:1px;top:1px;right:1px;height:2px;background:#e8eef4"></i><i style="position:absolute;left:1px;bottom:1px;right:1px;height:2px;background:#e8eef4"></i></div>
<div class="a" style="left:446.5px;top:358.5px;width:5px;height:8px;background:#cdb28a;"></div>
<div class="o" style="left:455px;top:346px;width:9px;height:10px;"><i style="position:absolute;left:1px;top:1px;right:1px;height:2px;background:#e8eef4"></i><i style="position:absolute;left:1px;bottom:1px;right:1px;height:2px;background:#e8eef4"></i></div>
<div class="o" style="left:455px;top:357px;width:9px;height:10px;"><i style="position:absolute;left:1px;top:1px;right:1px;height:2px;background:#e8eef4"></i><i style="position:absolute;left:1px;bottom:1px;right:1px;height:2px;background:#e8eef4"></i></div>
<div class="o" style="left:445px;top:371px;width:19px;height:8px;"><i style="position:absolute;top:1px;left:1px;bottom:1px;width:5px;background:#e8eef4"></i><i style="position:absolute;top:1px;right:1px;bottom:1px;width:5px;background:#e8eef4"></i></div>
<div class="a" style="left:449px;top:372.5px;width:11px;height:5px;background:#1f2226;"></div>
<div class="o" style="left:445px;top:382px;width:19px;height:8px;"><i style="position:absolute;top:1px;left:1px;bottom:1px;width:5px;background:#e8eef4"></i><i style="position:absolute;top:1px;right:1px;bottom:1px;width:5px;background:#e8eef4"></i></div>
<div class="a" style="left:449px;top:383.5px;width:11px;height:5px;background:#1f2226;"></div>
<div class="o" style="left:445px;top:393px;width:9px;height:8px;"><i style="position:absolute;left:1px;top:1px;right:1px;height:1px;background:#e8eef4"></i><i style="position:absolute;left:1px;bottom:1px;right:1px;height:1px;background:#e8eef4"></i></div>
<div class="o" style="left:455px;top:393px;width:9px;height:8px;"><i style="position:absolute;left:1px;top:1px;right:1px;height:1px;background:#e8eef4"></i><i style="position:absolute;left:1px;bottom:1px;right:1px;height:1px;background:#e8eef4"></i></div>
<div class="a" style="left:479px;top:346px;width:25.6px;height:53px;background:#1f2227;"></div>
<div class="a" style="left:467px;top:348.5px;width:11.5px;height:3.6px;background:#eaedf0;border-radius:1.5px"></div>
<div class="a" style="left:505px;top:348.5px;width:13px;height:3.6px;background:#eaedf0;border-radius:1.5px"></div>
<div class="a" style="left:467px;top:357.24px;width:11.5px;height:3.6px;background:#eaedf0;border-radius:1.5px"></div>
<div class="a" style="left:505px;top:357.24px;width:13px;height:3.6px;background:#eaedf0;border-radius:1.5px"></div>
<div class="a" style="left:467px;top:365.98px;width:11.5px;height:3.6px;background:#eaedf0;border-radius:1.5px"></div>
<div class="a" style="left:505px;top:365.98px;width:13px;height:3.6px;background:#eaedf0;border-radius:1.5px"></div>
<div class="a" style="left:467px;top:374.71999999999997px;width:11.5px;height:3.6px;background:#eaedf0;border-radius:1.5px"></div>
<div class="a" style="left:505px;top:374.71999999999997px;width:13px;height:3.6px;background:#eaedf0;border-radius:1.5px"></div>
<div class="a" style="left:467px;top:383.46px;width:11.5px;height:3.6px;background:#eaedf0;border-radius:1.5px"></div>
<div class="a" style="left:505px;top:383.46px;width:13px;height:3.6px;background:#eaedf0;border-radius:1.5px"></div>
<div class="a" style="left:467px;top:392.2px;width:11.5px;height:3.6px;background:#eaedf0;border-radius:1.5px"></div>
<div class="a" style="left:505px;top:392.2px;width:13px;height:3.6px;background:#eaedf0;border-radius:1.5px"></div>
<div class="a" style="left:475px;top:341px;width:3px;height:3px;background:#cfe3f3;border-radius:50%"></div>
<div class="a" style="left:410.9px;top:428.5px;width:18.1px;height:20.8px;background:#25272b;"></div>
<div class="a" style="left:409.2px;top:426.8px;width:21.5px;height:24.2px;background:transparent;border:1px dotted #b8c6d4"></div>
<div class="a" style="left:437.2px;top:425.8px;width:18.6px;height:18px;background:#232529;"></div>
<div class="a" style="left:435.5px;top:424px;width:22px;height:21.6px;background:transparent;border:1px dotted #b8c6d4"></div>
<div class="a" style="left:437px;top:446px;width:19px;height:1px;background:#c8d4e0;"></div>
<div class="a" style="left:458px;top:432px;width:7px;height:13px;background:#d9d2c4;border-radius:1px"></div>
<div class="o" style="left:448.7px;top:405.5px;width:7px;height:16.5px;"><i style="position:absolute;left:1px;top:1px;right:1px;height:4.0px;background:#e8eef4"></i><i style="position:absolute;left:1px;bottom:1px;right:1px;height:4.0px;background:#e8eef4"></i></div>
<div class="o" style="left:456.4px;top:406.6px;width:7px;height:11px;"><i style="position:absolute;left:1px;top:1px;right:1px;height:2px;background:#e8eef4"></i><i style="position:absolute;left:1px;bottom:1px;right:1px;height:2px;background:#e8eef4"></i></div>
<div class="o" style="left:463px;top:418px;width:8px;height:6px;"><i style="position:absolute;top:1px;left:1px;bottom:1px;width:1px;background:#e8eef4"></i><i style="position:absolute;top:1px;right:1px;bottom:1px;width:1px;background:#e8eef4"></i></div>
<div class="o" style="left:472px;top:418px;width:8px;height:6px;"><i style="position:absolute;top:1px;left:1px;bottom:1px;width:1px;background:#e8eef4"></i><i style="position:absolute;top:1px;right:1px;bottom:1px;width:1px;background:#e8eef4"></i></div>
<div class="o" style="left:481px;top:418px;width:8px;height:6px;"><i style="position:absolute;top:1px;left:1px;bottom:1px;width:1px;background:#e8eef4"></i><i style="position:absolute;top:1px;right:1px;bottom:1px;width:1px;background:#e8eef4"></i></div>
<div class="o" style="left:490px;top:418px;width:8px;height:6px;"><i style="position:absolute;top:1px;left:1px;bottom:1px;width:1px;background:#e8eef4"></i><i style="position:absolute;top:1px;right:1px;bottom:1px;width:1px;background:#e8eef4"></i></div>
<div class="o" style="left:499px;top:418px;width:8px;height:6px;"><i style="position:absolute;top:1px;left:1px;bottom:1px;width:1px;background:#e8eef4"></i><i style="position:absolute;top:1px;right:1px;bottom:1px;width:1px;background:#e8eef4"></i></div>
<div class="t" style="left:401.3px;top:439.4px;font-size:6.6px;color:#dce6f0">X</div>
<div class="t" style="left:406.3px;top:451.8px;font-size:5.4px;color:#dce6f0">Z</div>
<div class="t" style="left:416.2px;top:456.9px;font-size:6.6px;color:#dce6f0">Y</div>
<div class="a" style="left:402.7px;top:446.5px;width:1px;height:12px;background:#dce6f0;"></div>
<div class="a" style="left:403.2px;top:459.2px;width:12.6px;height:1px;background:#dce6f0;"></div>
<div class="a" style="left:401.3px;top:457.9px;width:3.8px;height:3.8px;background:transparent;border:1px solid #dce6f0;border-radius:50%"></div>
<div class="o" style="left:432.8px;top:447px;width:6px;height:11px;"><i style="position:absolute;left:1px;top:1px;right:1px;height:2px;background:#e8eef4"></i><i style="position:absolute;left:1px;bottom:1px;right:1px;height:2px;background:#e8eef4"></i></div>
<div class="o" style="left:412.5px;top:464.7px;width:10px;height:6.5px;"><i style="position:absolute;top:1px;left:1px;bottom:1px;width:2px;background:#e8eef4"></i><i style="position:absolute;top:1px;right:1px;bottom:1px;width:2px;background:#e8eef4"></i></div>
<div class="o" style="left:424px;top:461.4px;width:6px;height:11px;"><i style="position:absolute;left:1px;top:1px;right:1px;height:2px;background:#e8eef4"></i><i style="position:absolute;left:1px;bottom:1px;right:1px;height:2px;background:#e8eef4"></i></div>
<div class="a" style="left:425.5px;top:464px;width:3px;height:6px;background:#cdb28a;"></div>
<div class="o" style="left:432.3px;top:461.4px;width:6.5px;height:11px;"><i style="position:absolute;left:1px;top:1px;right:1px;height:2px;background:#e8eef4"></i><i style="position:absolute;left:1px;bottom:1px;right:1px;height:2px;background:#e8eef4"></i></div>
<div class="a" style="left:434px;top:464px;width:3.3px;height:6px;background:#cdb28a;"></div>
<div class="o" style="left:467.3px;top:465.7px;width:7.7px;height:11px;"><i style="position:absolute;left:1px;top:1px;right:1px;height:2px;background:#e8eef4"></i><i style="position:absolute;left:1px;bottom:1px;right:1px;height:2px;background:#e8eef4"></i></div>
<div class="a" style="left:446px;top:448px;width:18px;height:10px;background:#1f2226;"></div>
<div class="a" style="left:443px;top:449px;width:4px;height:5px;background:#e6eaee;"></div>
<div class="a" style="left:463px;top:449px;width:4px;height:5px;background:#e6eaee;"></div>
<div class="a" style="left:446px;top:460px;width:18px;height:10px;background:#1f2226;"></div>
<div class="a" style="left:443px;top:461px;width:4px;height:5px;background:#e6eaee;"></div>
<div class="a" style="left:463px;top:461px;width:4px;height:5px;background:#e6eaee;"></div>
<div class="a" style="left:452px;top:472px;width:12px;height:14px;background:#1f2226;"></div>
<div class="a" style="left:462px;top:474px;width:5px;height:5px;background:#e6eaee;"></div>
<div class="a" style="left:479.8px;top:453.6px;width:7.6px;height:9.8px;background:#1f2226;"></div>
<div class="a" style="left:488.1px;top:456.6px;width:6px;height:5.3px;background:#e6eaee;"></div>
<div class="o" style="left:498.7px;top:456.3px;width:10.5px;height:7.1px;"><i style="position:absolute;top:1px;left:1px;bottom:1px;width:2.0px;background:#e8eef4"></i><i style="position:absolute;top:1px;right:1px;bottom:1px;width:2.0px;background:#e8eef4"></i></div>
<div class="a" style="left:488.4px;top:466.3px;width:12.3px;height:5.2px;background:#d5c29e;border:1px solid #dfe8f0"></div>
<div class="o" style="left:481px;top:465.7px;width:5.6px;height:6.7px;"><i style="position:absolute;left:1px;top:1px;right:1px;height:1px;background:#e8eef4"></i><i style="position:absolute;left:1px;bottom:1px;right:1px;height:1px;background:#e8eef4"></i></div>
<div class="a" style="left:480.3px;top:475px;width:17.5px;height:13.4px;background:#4b4e53;border-radius:1px"></div>
<div class="a" style="left:419px;top:475px;width:11px;height:21px;background:#1f2226;"></div>
<div class="a" style="left:413.6px;top:476.6px;width:5.4px;height:4.4px;background:#e6eaee;"></div>
<div class="a" style="left:413.6px;top:489px;width:5.4px;height:5px;background:#e6eaee;"></div>
<div class="a" style="left:430px;top:476.6px;width:7px;height:4.4px;background:#e6eaee;"></div>
<div class="a" style="left:430px;top:489px;width:7px;height:5px;background:#e6eaee;"></div>
<div class="a" style="left:440px;top:481px;width:5.4px;height:3.4px;background:#e6eaee;"></div>
<div class="a" style="left:448.7px;top:496.3px;width:10px;height:18.7px;background:#1f2226;"></div>
<div class="a" style="left:458.6px;top:498px;width:7.6px;height:4.3px;background:#e6eaee;"></div>
<div class="a" style="left:458.6px;top:510.5px;width:7.6px;height:4.5px;background:#e6eaee;"></div>
<div class="a" style="left:440.5px;top:504px;width:6px;height:4.4px;background:#e6eaee;"></div>
<div class="a" style="left:470.4px;top:493px;width:26.3px;height:24px;background:#1c1f23;"></div>
<div class="o" style="left:413px;top:499.6px;width:6.7px;height:11.4px;"><i style="position:absolute;left:1px;top:1px;right:1px;height:2.0px;background:#e8eef4"></i><i style="position:absolute;left:1px;bottom:1px;right:1px;height:2.0px;background:#e8eef4"></i></div>
<div class="o" style="left:421.3px;top:499.6px;width:6.6px;height:11.4px;"><i style="position:absolute;left:1px;top:1px;right:1px;height:2.0px;background:#e8eef4"></i><i style="position:absolute;left:1px;bottom:1px;right:1px;height:2.0px;background:#e8eef4"></i></div>
<div class="a" style="left:414.5px;top:502.5px;width:3.7px;height:5.6px;background:#c9ae88;"></div>
<div class="a" style="left:422.8px;top:502.5px;width:3.6px;height:5.6px;background:#c9ae88;"></div>
<div class="o" style="left:448.0px;top:518.5px;width:7.4px;height:7px;"><i style="position:absolute;top:1px;left:1px;bottom:1px;width:1px;background:#e8eef4"></i><i style="position:absolute;top:1px;right:1px;bottom:1px;width:1px;background:#e8eef4"></i></div>
<div class="o" style="left:456.4px;top:518.5px;width:7.4px;height:7px;"><i style="position:absolute;top:1px;left:1px;bottom:1px;width:1px;background:#e8eef4"></i><i style="position:absolute;top:1px;right:1px;bottom:1px;width:1px;background:#e8eef4"></i></div>
<div class="o" style="left:464.8px;top:518.5px;width:7.4px;height:7px;"><i style="position:absolute;top:1px;left:1px;bottom:1px;width:1px;background:#e8eef4"></i><i style="position:absolute;top:1px;right:1px;bottom:1px;width:1px;background:#e8eef4"></i></div>
<div class="o" style="left:473.2px;top:518.5px;width:7.4px;height:7px;"><i style="position:absolute;top:1px;left:1px;bottom:1px;width:1px;background:#e8eef4"></i><i style="position:absolute;top:1px;right:1px;bottom:1px;width:1px;background:#e8eef4"></i></div>
<div class="o" style="left:481.6px;top:518.5px;width:7.4px;height:7px;"><i style="position:absolute;top:1px;left:1px;bottom:1px;width:1px;background:#e8eef4"></i><i style="position:absolute;top:1px;right:1px;bottom:1px;width:1px;background:#e8eef4"></i></div>
<div class="o" style="left:490.0px;top:518.5px;width:7.4px;height:7px;"><i style="position:absolute;top:1px;left:1px;bottom:1px;width:1px;background:#e8eef4"></i><i style="position:absolute;top:1px;right:1px;bottom:1px;width:1px;background:#e8eef4"></i></div>
<div class="o" style="left:412.5px;top:513.8px;width:7.2px;height:11px;"><i style="position:absolute;left:1px;top:1px;right:1px;height:2px;background:#e8eef4"></i><i style="position:absolute;left:1px;bottom:1px;right:1px;height:2px;background:#e8eef4"></i></div>
<div class="o" style="left:421.3px;top:513.8px;width:7.1px;height:11px;"><i style="position:absolute;left:1px;top:1px;right:1px;height:2px;background:#e8eef4"></i><i style="position:absolute;left:1px;bottom:1px;right:1px;height:2px;background:#e8eef4"></i></div>
<div class="a" style="left:430px;top:509.5px;width:7.7px;height:9.8px;background:#1f2226;"></div>
<div class="a" style="left:431px;top:501.8px;width:5.5px;height:6.6px;background:#e6eaee;"></div>
<div class="a" style="left:431px;top:519.9px;width:5.5px;height:4.9px;background:#e6eaee;"></div>
<div class="a" style="left:500px;top:510px;width:7.5px;height:15px;background:#d8cfc0;border:1px solid #e8eef4"></div>
<div class="o" style="left:440px;top:410px;width:7px;height:9px;"><i style="position:absolute;left:1px;top:1px;right:1px;height:1px;background:#e8eef4"></i><i style="position:absolute;left:1px;bottom:1px;right:1px;height:1px;background:#e8eef4"></i></div>
<div class="o" style="left:425px;top:410px;width:7px;height:9px;"><i style="position:absolute;left:1px;top:1px;right:1px;height:1px;background:#e8eef4"></i><i style="position:absolute;left:1px;bottom:1px;right:1px;height:1px;background:#e8eef4"></i></div>
<div class="a" style="left:426.5px;top:412px;width:4px;height:5px;background:#cdb28a;"></div>
<div class="a" style="left:400.5px;top:412px;width:7px;height:6px;background:#cdb28a;border:1px solid #e8eef4"></div>
<div class="a" style="left:409px;top:412px;width:7px;height:6px;background:#cdb28a;border:1px solid #e8eef4"></div>
<div class="a" style="left:460px;top:419px;width:15px;height:8px;background:#d8cfc0;border-radius:1px"></div>
<div class="o" style="left:480.5px;top:418.5px;width:8px;height:8.2px;"><i style="position:absolute;left:1px;top:1px;right:1px;height:1px;background:#e8eef4"></i><i style="position:absolute;left:1px;bottom:1px;right:1px;height:1px;background:#e8eef4"></i></div>
<div class="o" style="left:489.5px;top:418.5px;width:8px;height:8.2px;"><i style="position:absolute;left:1px;top:1px;right:1px;height:1px;background:#e8eef4"></i><i style="position:absolute;left:1px;bottom:1px;right:1px;height:1px;background:#e8eef4"></i></div>
<div class="o" style="left:498.5px;top:418.5px;width:8px;height:8.2px;"><i style="position:absolute;left:1px;top:1px;right:1px;height:1px;background:#e8eef4"></i><i style="position:absolute;left:1px;bottom:1px;right:1px;height:1px;background:#e8eef4"></i></div>
<div class="o" style="left:507.5px;top:418.5px;width:8px;height:8.2px;"><i style="position:absolute;left:1px;top:1px;right:1px;height:1px;background:#e8eef4"></i><i style="position:absolute;left:1px;bottom:1px;right:1px;height:1px;background:#e8eef4"></i></div>
<div class="o" style="left:516.5px;top:418.5px;width:5px;height:8.2px;"><i style="position:absolute;left:1px;top:1px;right:1px;height:1px;background:#e8eef4"></i><i style="position:absolute;left:1px;bottom:1px;right:1px;height:1px;background:#e8eef4"></i></div>
<div class="a" style="left:460px;top:432px;width:7.5px;height:15px;background:#d8cfc0;border-radius:1px"></div>
<div class="a" style="left:491.1px;top:434px;width:10.6px;height:18.1px;background:#1f2226;"></div>
<div class="a" style="left:500.2px;top:434.8px;width:8.6px;height:3.8px;background:#e6eaee;"></div>
<div class="a" style="left:500.2px;top:447.2px;width:8.6px;height:4.2px;background:#e6eaee;"></div>
<div class="a" style="left:482.9px;top:440.4px;width:8.2px;height:4.6px;background:#e6eaee;"></div>
<div class="o" style="left:502px;top:468.7px;width:7.2px;height:9px;"><i style="position:absolute;left:1px;top:1px;right:1px;height:1px;background:#e8eef4"></i><i style="position:absolute;left:1px;bottom:1px;right:1px;height:1px;background:#e8eef4"></i></div>
<div class="o" style="left:502px;top:479px;width:7.2px;height:9px;"><i style="position:absolute;left:1px;top:1px;right:1px;height:1px;background:#e8eef4"></i><i style="position:absolute;left:1px;bottom:1px;right:1px;height:1px;background:#e8eef4"></i></div>
<div class="o" style="left:502px;top:489.4px;width:7.2px;height:9px;"><i style="position:absolute;left:1px;top:1px;right:1px;height:1px;background:#e8eef4"></i><i style="position:absolute;left:1px;bottom:1px;right:1px;height:1px;background:#e8eef4"></i></div>
<div class="o" style="left:502px;top:500.7px;width:7.2px;height:9px;"><i style="position:absolute;left:1px;top:1px;right:1px;height:1px;background:#e8eef4"></i><i style="position:absolute;left:1px;bottom:1px;right:1px;height:1px;background:#e8eef4"></i></div>
<div class="a" style="left:497px;top:512px;width:6px;height:10px;background:#d8cfc0;"></div>
<div class="o" style="left:408px;top:530px;width:10px;height:7px;"><i style="position:absolute;top:1px;left:1px;bottom:1px;width:2px;background:#e8eef4"></i><i style="position:absolute;top:1px;right:1px;bottom:1px;width:2px;background:#e8eef4"></i></div>
<div class="a" style="left:586.5px;top:349.6px;width:19.9px;height:14.0px;background:#ebe7e1;border-radius:1px"></div>
<div class="a" style="left:586.5px;top:409.5px;width:19.9px;height:1.5px;background:#ebe7e1;border-radius:1px"></div>
<div class="a" style="left:578.3px;top:362.6px;width:30.7px;height:47.9px;background:#f0ece6;border-radius:1px"></div>
<div class="a" style="left:586.5px;top:417.4px;width:19.9px;height:8.2px;background:#e9e5de;"></div>
<div class="a" style="left:581px;top:367px;width:7.6px;height:9px;background:#ddd7cb;"></div>
<div class="a" style="left:581px;top:383px;width:7.6px;height:9px;background:#ddd7cb;"></div>
<div class="a" style="left:581px;top:399px;width:7.6px;height:9px;background:#ddd7cb;"></div>
<div class="a" style="left:578.3px;top:377.7px;width:11px;height:2px;background:#3a3a3a;"></div>
<div class="a" style="left:578.3px;top:394.5px;width:11px;height:2px;background:#3a3a3a;"></div>
<div class="a" style="left:609px;top:371px;width:8px;height:4px;background:#e6eaee;"></div>
<div class="a" style="left:609px;top:381px;width:8px;height:4px;background:#e6eaee;"></div>
<div class="a" style="left:609px;top:391px;width:8px;height:4px;background:#e6eaee;"></div>
<div class="a" style="left:609px;top:399px;width:8px;height:4px;background:#e6eaee;"></div>
<div class="t r" style="left:613.3px;top:362.2px;font-size:8.2px;">R</div>
<div class="t r" style="left:619.9px;top:402.8px;font-size:7.5px;">Speaker</div>
<div class="a" style="left:587px;top:429.5px;width:14.4px;height:4.800000000000011px;background:#ebe7e1;border-radius:1px"></div>
<div class="a" style="left:587px;top:462.40000000000003px;width:14.4px;height:3.999999999999943px;background:#ebe7e1;border-radius:1px"></div>
<div class="a" style="left:581.1px;top:433.3px;width:27.9px;height:30.1px;background:#f0ece6;border-radius:1px"></div>
<div class="a" style="left:609px;top:436px;width:6px;height:5px;background:#e6eaee;"></div>
<div class="a" style="left:609px;top:455px;width:6px;height:5px;background:#e6eaee;"></div>
<div class="a" style="left:616.3px;top:434.4px;width:1.5px;height:3.8px;background:#e8eef4;"></div>
<div class="t r" style="left:620.2px;top:456.5px;font-size:7.3px;letter-spacing:0.2px">RTC</div>
<div class="a" style="left:615px;top:459.6px;width:4.4px;height:1.4px;background:#e8eef4;"></div>
<div class="a" style="left:616.5px;top:458px;width:1.4px;height:4.4px;background:#e8eef4;"></div>
<div class="a" style="left:611px;top:433px;width:1.5px;height:12px;background:#dfe8f0;"></div>
<div class="a" style="left:609px;top:433px;width:3px;height:1.3px;background:#dfe8f0;"></div>
<div class="a" style="left:611px;top:451.6px;width:1.5px;height:12px;background:#dfe8f0;"></div>
<div class="a" style="left:609px;top:462.3px;width:3px;height:1.3px;background:#dfe8f0;"></div>
<div class="a" style="left:586.4px;top:471.7px;width:21.1px;height:13.800000000000011px;background:#ebe7e1;border-radius:1px"></div>
<div class="a" style="left:586.4px;top:516.0px;width:21.1px;height:10.700000000000045px;background:#ebe7e1;border-radius:1px"></div>
<div class="a" style="left:580.3px;top:484.5px;width:29.4px;height:32.5px;background:#f0ece6;border-radius:1px"></div>
<div class="a" style="left:580.3px;top:499px;width:10px;height:2px;background:#3a3a3a;"></div>
<div class="a" style="left:582px;top:490px;width:7px;height:8px;background:#ddd7cb;"></div>
<div class="a" style="left:582px;top:503px;width:7px;height:8px;background:#ddd7cb;"></div>
<div class="a" style="left:609px;top:504px;width:8px;height:4px;background:#e6eaee;"></div>
<div class="a" style="left:615.8px;top:484.3px;width:5.8px;height:1.6px;background:#e8eef4;"></div>
<div class="a" style="left:617.9px;top:481.8px;width:1.6px;height:6.5px;background:#e8eef4;"></div>
<div class="a" style="left:617.3px;top:512px;width:1.6px;height:6.5px;background:#e8eef4;"></div>
<div class="t r" style="left:625.2px;top:509px;font-size:7.3px;letter-spacing:0.2px">BAT</div>
<div class="a" style="left:611px;top:479.7px;width:1.6px;height:13px;background:#dfe8f0;"></div>
<div class="a" style="left:609px;top:479.7px;width:3px;height:1.3px;background:#dfe8f0;"></div>
<div class="a" style="left:611px;top:507px;width:1.6px;height:12px;background:#dfe8f0;"></div>
<div class="a" style="left:609px;top:517.7px;width:3px;height:1.3px;background:#dfe8f0;"></div>
<div class="a" style="left:518.6px;top:449.1px;width:55.9px;height:64.2px;background:radial-gradient(ellipse at 50% 45%,#ec8a22 0,#e07a14 60%,#cf6c10 100%);border-radius:5px"></div>
<div class="a" style="left:522.2px;top:452.7px;width:12.3px;height:11.3px;background:#6a3a18;border-radius:1px"></div>
<div class="a" style="left:523.2px;top:453.7px;width:4px;height:3.5px;background:#c8a050;"></div>
<div class="a" style="left:529px;top:453.7px;width:4px;height:3.5px;background:#c8a050;"></div>
<div class="a" style="left:523.2px;top:459.5px;width:4px;height:3.5px;background:#c8a050;"></div>
<div class="a" style="left:529px;top:459.5px;width:4px;height:3.5px;background:#c8a050;"></div>
<div class="a" style="left:545.8px;top:453.7px;width:20.5px;height:11.8px;background:#b86a1a;border-radius:1px"></div>
<div class="a" style="left:546.5px;top:455px;width:4px;height:3px;background:#d8b060;"></div>
<div class="a" style="left:546.5px;top:460.5px;width:4px;height:3px;background:#d8b060;"></div>
<div class="a" style="left:553px;top:455px;width:6px;height:9px;background:#5a4a30;"></div>
<div class="a" style="left:560.5px;top:455px;width:5px;height:9px;background:#7a5a30;"></div>
<div class="a" style="left:531px;top:466px;width:30px;height:8px;background:repeating-linear-gradient(90deg,#e8a040 0,#e8a040 1px,transparent 1px,transparent 2.6px);opacity:.7"></div>
<div class="a" style="left:525.8px;top:473.3px;width:38.9px;height:34.3px;background:transparent;border:1.3px dotted #d0a048"></div>
<div class="a" style="left:527.8px;top:475.3px;width:34.9px;height:30.3px;background:#2b2a28;"></div>
<div class="a" style="left:537px;top:485px;width:14px;height:8px;background:#33312d;"></div>
<div class="a" style="left:303px;top:343px;width:83.2px;height:82px;background:transparent;border:1.2px solid #d4dde6;border-radius:1px"></div>
<div class="a" style="left:305px;top:345.6px;width:77.4px;height:78.1px;background:linear-gradient(180deg,#d9d5ce,#d5d0c9);border-radius:1px"></div>
<div class="a" style="left:303px;top:356.3px;width:14px;height:52.3px;background:#22507a;border-radius:0 7px 5px 0"></div>
<div class="a" style="left:303.2px;top:356.5px;width:1.5px;height:52px;background:#d4dde6;"></div>
<div class="a" style="left:355.9px;top:350.5px;width:9px;height:5.2px;background:radial-gradient(ellipse,#d8a838 0,#bb8a2a 45%,#5a3c12 100%);border-radius:2.6px"></div>
<div class="a" style="left:355.9px;top:358.09999999999997px;width:9px;height:5.2px;background:radial-gradient(ellipse,#d8a838 0,#bb8a2a 45%,#5a3c12 100%);border-radius:2.6px"></div>
<div class="a" style="left:354.9px;top:365.59999999999997px;width:9px;height:5.2px;background:radial-gradient(ellipse,#d8a838 0,#bb8a2a 45%,#5a3c12 100%);border-radius:2.6px"></div>
<div class="a" style="left:355.59999999999997px;top:373.2px;width:9px;height:5.2px;background:radial-gradient(ellipse,#d8a838 0,#bb8a2a 45%,#5a3c12 100%);border-radius:2.6px"></div>
<div class="a" style="left:354.9px;top:380.5px;width:9px;height:5.2px;background:radial-gradient(ellipse,#d8a838 0,#bb8a2a 45%,#5a3c12 100%);border-radius:2.6px"></div>
<div class="a" style="left:355.9px;top:388.09999999999997px;width:9px;height:5.2px;background:radial-gradient(ellipse,#d8a838 0,#bb8a2a 45%,#5a3c12 100%);border-radius:2.6px"></div>
<div class="a" style="left:356.2px;top:395.59999999999997px;width:9px;height:5.2px;background:radial-gradient(ellipse,#d8a838 0,#bb8a2a 45%,#5a3c12 100%);border-radius:2.6px"></div>
<div class="a" style="left:355.9px;top:402.79999999999995px;width:9px;height:5.2px;background:radial-gradient(ellipse,#d8a838 0,#bb8a2a 45%,#5a3c12 100%);border-radius:2.6px"></div>
<div class="a" style="left:366.5px;top:408px;width:13.5px;height:13.5px;background:#4f5153;border-radius:2px"></div>
<div class="a" style="left:337px;top:414.5px;width:11px;height:4px;background:#3e4042;border-radius:2px"></div>
<div class="a" style="left:380px;top:360px;width:2.4px;height:50px;background:#c2bdb5;"></div>
<div class="a" style="left:330.3px;top:430.8px;width:33.7px;height:103.5px;background:#ebe5da;border-radius:1px"></div>
<div class="a" style="left:334.7px;top:431.5px;width:1.2px;height:102px;background:#cdc6ba;"></div>
<div class="a" style="left:328.6px;top:441px;width:3px;height:84px;background:#1c1c1e;"></div>
<div class="a" style="left:324.6px;top:443.8px;width:4.4px;height:3.2px;background:#eef1f4;"></div>
<div class="a" style="left:324.6px;top:450.6px;width:4.4px;height:3.2px;background:#eef1f4;"></div>
<div class="a" style="left:324.6px;top:457.40000000000003px;width:4.4px;height:3.2px;background:#eef1f4;"></div>
<div class="a" style="left:324.6px;top:464.2px;width:4.4px;height:3.2px;background:#eef1f4;"></div>
<div class="a" style="left:324.6px;top:471.0px;width:4.4px;height:3.2px;background:#eef1f4;"></div>
<div class="a" style="left:324.6px;top:477.8px;width:4.4px;height:3.2px;background:#eef1f4;"></div>
<div class="a" style="left:324.6px;top:484.6px;width:4.4px;height:3.2px;background:#eef1f4;"></div>
<div class="a" style="left:324.6px;top:491.40000000000003px;width:4.4px;height:3.2px;background:#eef1f4;"></div>
<div class="a" style="left:324.6px;top:498.2px;width:4.4px;height:3.2px;background:#eef1f4;"></div>
<div class="a" style="left:324.6px;top:505.0px;width:4.4px;height:3.2px;background:#eef1f4;"></div>
<div class="a" style="left:324.6px;top:511.8px;width:4.4px;height:3.2px;background:#eef1f4;"></div>
<div class="a" style="left:324.6px;top:518.6px;width:4.4px;height:3.2px;background:#eef1f4;"></div>
<div class="t" style="right:637px;top:442.1px;font-size:7.3px;letter-spacing:0.35px;color:#e4ecf4">IO15</div>
<div class="t" style="right:637px;top:448.90000000000003px;font-size:7.3px;letter-spacing:0.35px;color:#e4ecf4">IO18</div>
<div class="t" style="right:637px;top:455.70000000000005px;font-size:7.3px;letter-spacing:0.35px;color:#e4ecf4">RXD</div>
<div class="t" style="right:637px;top:462.5px;font-size:7.3px;letter-spacing:0.35px;color:#e4ecf4">TXD</div>
<div class="t" style="right:637px;top:469.3px;font-size:7.3px;letter-spacing:0.35px;color:#e4ecf4">SDA</div>
<div class="t" style="right:637px;top:476.1px;font-size:7.3px;letter-spacing:0.35px;color:#e4ecf4">SCL</div>
<div class="t" style="right:637px;top:482.90000000000003px;font-size:7.3px;letter-spacing:0.35px;color:#e4ecf4">3V3</div>
<div class="t" style="right:637px;top:489.70000000000005px;font-size:7.3px;letter-spacing:0.35px;color:#e4ecf4">GND</div>
<div class="t" style="right:637px;top:496.5px;font-size:7.3px;letter-spacing:0.35px;color:#e4ecf4">D+</div>
<div class="t" style="right:637px;top:503.3px;font-size:7.3px;letter-spacing:0.35px;color:#e4ecf4">D-</div>
<div class="t" style="right:637px;top:510.1px;font-size:7.3px;letter-spacing:0.35px;color:#e4ecf4">VBus</div>
<div class="t" style="right:637px;top:516.9px;font-size:7.3px;letter-spacing:0.35px;color:#e4ecf4">GND</div>
<div class="a" style="left:405px;top:569px;width:4.8px;height:14px;background:#dedad3;"></div>
<div class="a" style="left:357.4px;top:569.5px;width:2.6px;height:13px;background:#dedad3;"></div>
<div class="a" style="left:359.8px;top:558.3px;width:45.2px;height:30.3px;background:#efebe5;border-radius:3px 1px 1px 1px"></div>
<div class="a" style="left:361.5px;top:558.8px;width:41.5px;height:3px;background:#e4dfd6;"></div>
<div class="a" style="left:401px;top:560px;width:3.5px;height:3.5px;background:#2a2a2a;"></div>
<div class="a" style="left:372.40000000000003px;top:553.4px;width:2.4px;height:7.5px;background:linear-gradient(180deg,#c9cdd2,#e8e8e6);"></div>
<div class="a" style="left:379.0px;top:553.4px;width:2.4px;height:7.5px;background:linear-gradient(180deg,#c9cdd2,#e8e8e6);"></div>
<div class="a" style="left:386.3px;top:553.4px;width:2.4px;height:7.5px;background:linear-gradient(180deg,#c9cdd2,#e8e8e6);"></div>
<div class="a" style="left:393.6px;top:553.4px;width:2.4px;height:7.5px;background:linear-gradient(180deg,#c9cdd2,#e8e8e6);"></div>
<div class="t r" style="left:370.3px;top:551.2px;font-size:7.4px;letter-spacing:0.1px">GND</div>
<div class="t r" style="left:377.40000000000003px;top:551.2px;font-size:7.4px;letter-spacing:0.1px">3V3</div>
<div class="t r" style="left:384.5px;top:551.2px;font-size:7.4px;letter-spacing:0.1px">SDA</div>
<div class="t r" style="left:391.6px;top:551.2px;font-size:7.4px;letter-spacing:0.1px">SCL</div>
<div class="t" style="left:340.5px;top:578.6px;font-size:8px;">I2C</div>
<div class="o" style="left:407px;top:529.5px;width:11px;height:7.5px;"><i style="position:absolute;top:1px;left:1px;bottom:1px;width:2px;background:#e8eef4"></i><i style="position:absolute;top:1px;right:1px;bottom:1px;width:2px;background:#e8eef4"></i></div>
<div class="a" style="left:407px;top:538px;width:11px;height:6.5px;background:#1f2226;"></div>
<div class="a" style="left:405px;top:539px;width:3px;height:5px;background:#e6eaee;"></div>
<div class="a" style="left:417px;top:539px;width:3px;height:5px;background:#e6eaee;"></div>
<div class="t" style="left:405px;top:547px;font-size:8px;letter-spacing:0.3px">PWR</div>
<div class="a" style="left:438.6px;top:539.2px;width:48.2px;height:6.8px;background:repeating-linear-gradient(90deg,#eceae6 0,#eceae6 2.4px,#4a4a4c 2.4px,#4a4a4c 3.7px);"></div>
<div class="a" style="left:430.4px;top:540px;width:6px;height:7px;background:#e6e3de;border-radius:3px"></div>
<div class="a" style="left:489.8px;top:540px;width:6px;height:7px;background:#e6e3de;border-radius:3px"></div>
<div class="a" style="left:429.5px;top:567px;width:3px;height:17px;background:#d4d0c9;border-radius:1px"></div>
<div class="a" style="left:492px;top:566px;width:3.6px;height:18px;background:#d4d0c9;border-radius:1px"></div>
<div class="a" style="left:431px;top:545.3px;width:61.3px;height:51px;background:linear-gradient(90deg,#bdb8b0 0,#d2cec6 6%,#cfcac2 50%,#c9c4bc 72%,#b2ada6 82%,#c4bfb7 92%,#aaa59e 100%);border-radius:3px 3px 2px 2px"></div>
<div class="a" style="left:442.5px;top:546.4px;width:10.4px;height:7px;background:#2c2c2e;"></div>
<div class="a" style="left:469.3px;top:546.4px;width:10.4px;height:7px;background:#2c2c2e;"></div>
<div class="a" style="left:444.5px;top:547.5px;width:6.4px;height:3.5px;background:#c8c3bb;"></div>
<div class="a" style="left:471.3px;top:547.5px;width:6.4px;height:3.5px;background:#c8c3bb;"></div>
<div class="a" style="left:455.5px;top:560.5px;width:8px;height:3.5px;background:#8f8a83;border-radius:2px"></div>
<div class="o" style="left:507px;top:529.5px;width:11px;height:7.5px;"><i style="position:absolute;top:1px;left:1px;bottom:1px;width:2px;background:#e8eef4"></i><i style="position:absolute;top:1px;right:1px;bottom:1px;width:2px;background:#e8eef4"></i></div>
<div class="a" style="left:507px;top:538px;width:11px;height:6.5px;background:#1f2226;"></div>
<div class="a" style="left:505px;top:539px;width:3px;height:5px;background:#e6eaee;"></div>
<div class="a" style="left:517px;top:539px;width:3px;height:5px;background:#e6eaee;"></div>
<div class="t" style="left:500.3px;top:546.8px;font-size:8px;letter-spacing:0.1px">Charge</div>
<div class="a" style="left:563.2px;top:569px;width:4.5px;height:14.5px;background:#dedad3;"></div>
<div class="a" style="left:516.2px;top:570px;width:2.6px;height:13px;background:#dedad3;"></div>
<div class="a" style="left:518.6px;top:559px;width:44.6px;height:29.8px;background:#efebe5;border-radius:3px 1px 1px 1px"></div>
<div class="a" style="left:520.5px;top:559.5px;width:41px;height:3px;background:#e4dfd6;"></div>
<div class="a" style="left:559px;top:560.5px;width:3.2px;height:3px;background:#2a2a2a;"></div>
<div class="a" style="left:529.9px;top:553.3px;width:2.4px;height:8px;background:linear-gradient(180deg,#c9cdd2,#e8e8e6);"></div>
<div class="a" style="left:536.5999999999999px;top:553.3px;width:2.4px;height:8px;background:linear-gradient(180deg,#c9cdd2,#e8e8e6);"></div>
<div class="a" style="left:543.3px;top:553.3px;width:2.4px;height:8px;background:linear-gradient(180deg,#c9cdd2,#e8e8e6);"></div>
<div class="a" style="left:550.5px;top:553.3px;width:2.4px;height:8px;background:linear-gradient(180deg,#c9cdd2,#e8e8e6);"></div>
<div class="t r" style="left:529.2px;top:551.5px;font-size:7.4px;letter-spacing:0.1px">GND</div>
<div class="t r" style="left:535.95px;top:551.5px;font-size:7.4px;letter-spacing:0.1px">3V3</div>
<div class="t r" style="left:542.7px;top:551.5px;font-size:7.4px;letter-spacing:0.1px">TXD</div>
<div class="t r" style="left:549.45px;top:551.5px;font-size:7.4px;letter-spacing:0.1px">RXD</div>
<div class="t" style="left:569.8px;top:579.5px;font-size:7.8px;letter-spacing:0.2px">UART</div>
<svg class="a" style="left:0;top:0" width="960" height="730" viewBox="0 0 960 730">
<polygon fill="#eef0f2" points="519.04,187.67 527.91,187.67 529.58,195.78 531.97,187.67 539.82,187.67 540.84,195.78 544.38,186.4 544.13,185.39 551.99,177.28 551.73,187.67 550.97,188.28 543.62,208.45 538.3,208.45 534.85,198.82 531.21,208.45 526.14,208.45"/>
<polygon fill="#eef0f2" points="548.15,208.15 557.03,188.02 562.12,188.02 569.11,203.63 564.59,211.44 558.01,220.07 557.03,210.62 559.25,209.39 562.95,203.63 560.07,196.65 553.5,208.15"/>
<circle cx="565" cy="181" r="5" fill="none" stroke="#dfe9f2" stroke-width="1.2"/>
<text x="565" y="184.3" font-family="Liberation Sans" font-size="8" font-weight="bold" fill="#dfe9f2" text-anchor="middle">R</text>
</svg>
<div class="a" style="left:382px;top:164px;width:8px;height:8px;background:transparent;border:1.2px solid #dfe8f0;transform:rotate(45deg)"></div>
<div class="a" style="left:384.5px;top:166.5px;width:3px;height:3px;background:#dfe8f0;transform:rotate(45deg)"></div>
<div class="a" style="left:356.5px;top:124px;width:1px;height:50px;background:repeating-linear-gradient(180deg,#143e6a 0,#143e6a 1px,transparent 1px,transparent 3px);"></div>
<div class="a" style="left:366.5px;top:130px;width:1px;height:44px;background:repeating-linear-gradient(180deg,#143e6a 0,#143e6a 1px,transparent 1px,transparent 3px);"></div>
<div class="a" style="left:330px;top:208.5px;width:50px;height:1px;background:repeating-linear-gradient(90deg,#143e6a 0,#143e6a 1px,transparent 1px,transparent 3px);"></div>
<svg class="a" style="left:0;top:0" width="960" height="730" viewBox="0 0 960 730">
<g fill="none" stroke="#000" stroke-width="5.9" stroke-linejoin="miter" stroke-linecap="square">
<polyline points="339,88.8 339,232"/>
<polyline points="368,88.8 368,287.5"/>
<polyline points="394,88.8 394,166"/>
<polyline points="419.8,88.8 419.8,381"/>
<polyline points="446.7,88.8 446.7,133.3"/>
<polyline points="494.2,88.8 494.2,378.2"/>
<polyline points="265.8,205.7 308.2,205.7"/>
<polyline points="265.8,258.7 309.2,258.7"/>
<polyline points="265.8,310.5 308.2,310.5"/>
<polyline points="265.8,385.3 332.9,385.3"/>
<polyline points="265.8,412 419.6,412 419.6,438.9"/>
<polyline points="265.8,479.3 299.8,479.3"/>
<polyline points="654.8,291.5 598.4,291.5"/>
<polyline points="654.8,343.4 522,343.4 522,403.4 445.8,403.4 445.8,432.7"/>
<polyline points="654.8,384.7 597,384.7"/>
<polyline points="654.8,413.4 476,413.4 476,487.6 425.3,487.6"/>
<polyline points="654.8,448 594.6,448"/>
<polyline points="654.8,497.7 598.3,497.7"/>
<polyline points="654.8,528.5 563,528.5 563,508.4 482.4,508.4"/>
<polyline points="383.9,619.2 383.9,578.4"/>
<polyline points="414.8,619.2 414.8,543"/>
<polyline points="463,619.2 463,578.4"/>
<polyline points="512.7,619.2 512.7,542.5"/>
<polyline points="545.5,619.2 545.5,575"/>
<polyline points="394,139.6 386,139.6"/>
</g>
<g fill="none" stroke="#fff" stroke-width="2.6" stroke-linejoin="miter" stroke-linecap="square">
<polyline points="339,88.8 339,232"/>
<polyline points="368,88.8 368,287.5"/>
<polyline points="394,88.8 394,166"/>
<polyline points="419.8,88.8 419.8,381"/>
<polyline points="446.7,88.8 446.7,133.3"/>
<polyline points="494.2,88.8 494.2,378.2"/>
<polyline points="265.8,205.7 308.2,205.7"/>
<polyline points="265.8,258.7 309.2,258.7"/>
<polyline points="265.8,310.5 308.2,310.5"/>
<polyline points="265.8,385.3 332.9,385.3"/>
<polyline points="265.8,412 419.6,412 419.6,438.9"/>
<polyline points="265.8,479.3 299.8,479.3"/>
<polyline points="654.8,291.5 598.4,291.5"/>
<polyline points="654.8,343.4 522,343.4 522,403.4 445.8,403.4 445.8,432.7"/>
<polyline points="654.8,384.7 597,384.7"/>
<polyline points="654.8,413.4 476,413.4 476,487.6 425.3,487.6"/>
<polyline points="654.8,448 594.6,448"/>
<polyline points="654.8,497.7 598.3,497.7"/>
<polyline points="654.8,528.5 563,528.5 563,508.4 482.4,508.4"/>
<polyline points="383.9,619.2 383.9,578.4"/>
<polyline points="414.8,619.2 414.8,543"/>
<polyline points="463,619.2 463,578.4"/>
<polyline points="512.7,619.2 512.7,542.5"/>
<polyline points="545.5,619.2 545.5,575"/>
<polyline points="394,139.6 386,139.6"/>
</g>
<g fill="#f2f2f2" stroke="#000" stroke-width="1.6">
<circle cx="339" cy="232" r="4.1"/>
<circle cx="368" cy="287.5" r="4.1"/>
<circle cx="394" cy="166" r="4.1"/>
<circle cx="419.8" cy="381" r="4.1"/>
<circle cx="446.7" cy="133.3" r="4.1"/>
<circle cx="494.2" cy="378.2" r="4.1"/>
<circle cx="308.2" cy="205.7" r="4.1"/>
<circle cx="309.2" cy="258.7" r="4.1"/>
<circle cx="308.2" cy="310.5" r="4.1"/>
<circle cx="332.9" cy="385.3" r="4.1"/>
<circle cx="419.6" cy="438.9" r="4.1"/>
<circle cx="299.8" cy="479.3" r="4.1"/>
<circle cx="598.4" cy="291.5" r="4.1"/>
<circle cx="445.8" cy="432.7" r="4.1"/>
<circle cx="597" cy="384.7" r="4.1"/>
<circle cx="425.3" cy="487.6" r="4.1"/>
<circle cx="594.6" cy="448" r="4.1"/>
<circle cx="598.3" cy="497.7" r="4.1"/>
<circle cx="482.4" cy="508.4" r="4.1"/>
<circle cx="383.9" cy="578.4" r="4.1"/>
<circle cx="414.8" cy="543" r="4.1"/>
<circle cx="463" cy="578.4" r="4.1"/>
<circle cx="512.7" cy="542.5" r="4.1"/>
<circle cx="545.5" cy="575" r="4.1"/>
<circle cx="386" cy="139.6" r="4.1"/>
</g>
<g fill="#fff" stroke="#000" stroke-width="1.45">
<circle cx="336.7" cy="68.7" r="13.45"/>
<circle cx="365.8" cy="68.7" r="13.45"/>
<circle cx="394.5" cy="68.7" r="13.45"/>
<circle cx="421.9" cy="68.7" r="13.45"/>
<circle cx="450.5" cy="68.7" r="13.45"/>
<circle cx="496.0" cy="68.7" r="13.45"/>
<circle cx="246.6" cy="201.6" r="13.45"/>
<circle cx="246.6" cy="256.6" r="13.45"/>
<circle cx="246.6" cy="307.4" r="13.45"/>
<circle cx="246.8" cy="384.7" r="13.45"/>
<circle cx="246.8" cy="413.4" r="13.45"/>
<circle cx="246.8" cy="478.5" r="13.45"/>
<circle cx="676.2" cy="291.0" r="13.45"/>
<circle cx="675.5" cy="343.7" r="13.45"/>
<circle cx="675.9" cy="384.0" r="13.45"/>
<circle cx="675.9" cy="413.0" r="13.45"/>
<circle cx="675.9" cy="447.6" r="13.45"/>
<circle cx="675.9" cy="498.0" r="13.45"/>
<circle cx="675.9" cy="530.0" r="13.45"/>
<circle cx="382.1" cy="639.8" r="13.45"/>
<circle cx="414.2" cy="639.8" r="13.45"/>
<circle cx="463.0" cy="639.8" r="13.45"/>
<circle cx="513.2" cy="639.8" r="13.45"/>
<circle cx="545.2" cy="639.8" r="13.45"/>
</g>
<g font-family="Liberation Sans" font-size="19.5" stroke="#000" stroke-width="0.15" text-anchor="middle" fill="#000">
<text x="336.7" y="75.7">1</text>
<text x="365.8" y="75.7">2</text>
<text x="387.20" y="75.7" text-anchor="start" textLength="14.6" lengthAdjust="spacingAndGlyphs">11</text>
<text x="421.9" y="75.7">5</text>
<text x="442.00" y="75.7" text-anchor="start" textLength="17.0" lengthAdjust="spacingAndGlyphs">10</text>
<text x="496.0" y="75.7">6</text>
<text x="238.10" y="208.6" text-anchor="start" textLength="17.0" lengthAdjust="spacingAndGlyphs">15</text>
<text x="238.10" y="263.6" text-anchor="start" textLength="17.0" lengthAdjust="spacingAndGlyphs">14</text>
<text x="238.10" y="314.4" text-anchor="start" textLength="17.0" lengthAdjust="spacingAndGlyphs">13</text>
<text x="238.30" y="391.7" text-anchor="start" textLength="17.0" lengthAdjust="spacingAndGlyphs">12</text>
<text x="246.8" y="420.4">3</text>
<text x="238.30" y="485.5" text-anchor="start" textLength="17.0" lengthAdjust="spacingAndGlyphs">17</text>
<text x="676.2" y="298.0">7</text>
<text x="675.5" y="350.7">4</text>
<text x="667.40" y="391.0" text-anchor="start" textLength="17.0" lengthAdjust="spacingAndGlyphs">22</text>
<text x="675.9" y="420.0">9</text>
<text x="667.40" y="454.6" text-anchor="start" textLength="17.0" lengthAdjust="spacingAndGlyphs">21</text>
<text x="667.40" y="505.0" text-anchor="start" textLength="17.0" lengthAdjust="spacingAndGlyphs">20</text>
<text x="675.9" y="537.0">8</text>
<text x="373.60" y="646.8" text-anchor="start" textLength="17.0" lengthAdjust="spacingAndGlyphs">18</text>
<text x="405.70" y="646.8" text-anchor="start" textLength="17.0" lengthAdjust="spacingAndGlyphs">23</text>
<text x="454.50" y="646.8" text-anchor="start" textLength="17.0" lengthAdjust="spacingAndGlyphs">16</text>
<text x="504.70" y="646.8" text-anchor="start" textLength="17.0" lengthAdjust="spacingAndGlyphs">24</text>
<text x="536.70" y="646.8" text-anchor="start" textLength="17.0" lengthAdjust="spacingAndGlyphs">19</text>
</g></svg>
</body></html>
